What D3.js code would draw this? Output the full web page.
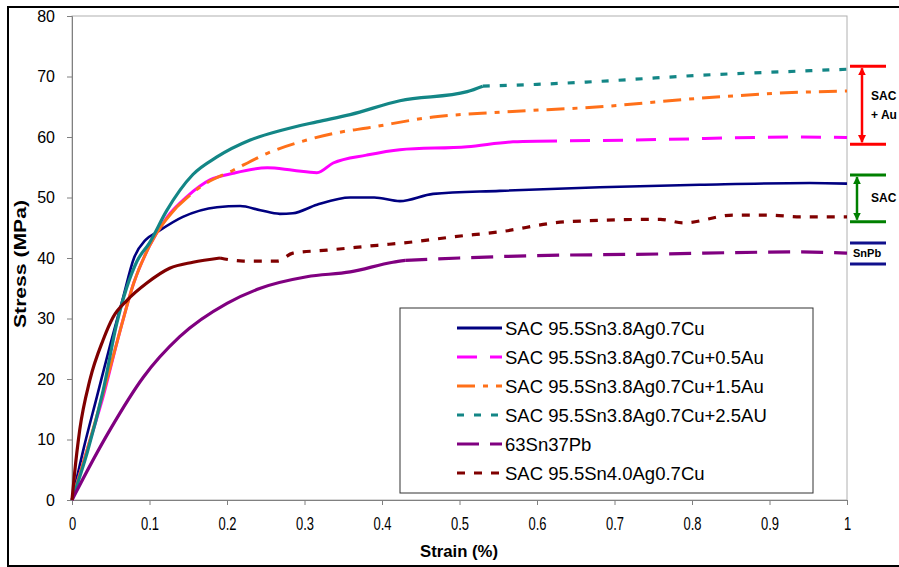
<!DOCTYPE html>
<html>
<head>
<meta charset="utf-8">
<script src="https://cdn.jsdelivr.net/npm/d3@7"></script>
<style>
  body { margin: 0; background: #fff; }
  text { font-family: "Liberation Sans", Arial, sans-serif; }
</style>
</head>
<body>
<div id="svg-container"></div>
<script>
// series names (legend order)
const seriesNames = [
  "SAC 95.5Sn3.8Ag0.7Cu",
  "SAC 95.5Sn3.8Ag0.7Cu+0.5Au",
  "SAC 95.5Sn3.8Ag0.7Cu+1.5Au",
  "SAC 95.5Sn3.8Ag0.7Cu+2.5AU",
  "63Sn37Pb",
  "SAC 95.5Sn4.0Ag0.7Cu"
]

// [strain %, stress MPa]
const sac = [[0,0],[0.015,8.5],[0.032,17],[0.05,26],[0.065,33],[0.08,40],[0.095,43],[0.11,44.3],[0.143,46.8],[0.187,48.4],[0.217,48.6],[0.243,47.9],[0.268,47.3],[0.285,47.4],[0.316,48.8],[0.359,50],[0.39,50],[0.423,49.4],[0.466,50.6],[0.552,51.1],[0.681,51.7],[0.81,52.1],[0.952,52.4],[1,52.3]]
const sacAu05 = [[0,0],[0.02,8.5],[0.04,17],[0.06,27],[0.08,36],[0.1,42],[0.123,46.8],[0.148,50.1],[0.178,52.9],[0.208,54],[0.252,54.9],[0.285,54.5],[0.316,54.1],[0.337,55.7],[0.38,57],[0.423,57.9],[0.51,58.4],[0.569,59.2],[0.6,59.3],[0.724,59.5],[0.94,60],[1,59.9]]
const sacAu15 = [[0,0],[0.02,8.5],[0.04,17.5],[0.06,27],[0.08,36],[0.1,42],[0.135,48.4],[0.165,51.7],[0.208,54.5],[0.252,57.3],[0.303,59.5],[0.346,60.8],[0.381,61.5],[0.466,63.3],[0.552,64.1],[0.681,65],[0.81,66.4],[0.94,67.4],[1,67.6]]
const sacAu25 = [[0,0],[0.02,8],[0.04,18],[0.058,29.3],[0.084,39.5],[0.1,42.5],[0.122,47.8],[0.156,53.8],[0.187,56.7],[0.23,59.5],[0.273,61.2],[0.316,62.5],[0.359,63.7],[0.423,66],[0.51,67.5],[0.53,68.4],[0.6,68.7],[0.681,69.2],[0.81,70.2],[0.94,70.9],[1,71.2]]
const snPb = [[0,0],[0.002,0.5],[0.049,11.6],[0.092,20.3],[0.139,27],[0.2,32.5],[0.243,35],[0.303,36.9],[0.359,37.7],[0.414,39.3],[0.43,39.6],[0.5,40],[0.6,40.4],[0.724,40.6],[0.94,41],[1,40.8]]
const sac40 = [[0,0],[0.003,4],[0.01,11.6],[0.023,19.8],[0.04,26.4],[0.053,30.2],[0.071,33],[0.097,35.9],[0.126,38.3],[0.156,39.3],[0.191,40],[0.221,39.5],[0.265,39.5],[0.285,40.8],[0.329,41.3],[0.394,42.1],[0.436,42.6],[0.492,43.5],[0.55,44.3],[0.639,46],[0.759,46.4],[0.789,45.8],[0.853,47.1],[0.897,47.1],[0.94,46.8],[1,46.8]]

const xTicks = [0, 0.1, 0.2, 0.3, 0.4, 0.5, 0.6, 0.7, 0.8, 0.9, 1]
const yTicks = [0, 10, 20, 30, 40, 50, 60, 70, 80]

// stress ranges marked on the right side
const bracketLabels = [["SAC", "+ Au"], ["SAC"], ["SnPb"]]
const bracketLow = [58.8, 46, 39]
const bracketHigh = [71.7, 53.7, 42.5]

const allSeries = [sac, sacAu05, sacAu15, sacAu25, snPb, sac40]

// styling per series
const styles = [
  { color: "#000080", dash: null, width: 2.6, solidTo: 1 },
  { color: "#ff00ff", dash: "20,13", width: 3, solidTo: 0.6 },
  { color: "#ff7019", dash: "18,8,5,8", width: 3, solidTo: 0.135 },
  { color: "#138686", dash: "7,10", width: 3.2, solidTo: 0.53 },
  { color: "#800080", dash: "22,11", width: 3.2, solidTo: 0.43 },
  { color: "#800000", dash: "8,9", width: 3.2, solidTo: 0.191 }
]
const bracketColors = ["#ff0000", "#008000", "#10108c"]

const svg = d3.select("#svg-container")
  .append("svg")
    .attr("width", 899)
    .attr("height", 567)

// outer frame
svg.append("rect")
  .attr("x", 8).attr("y", 7)
  .attr("width", 900).attr("height", 559)
  .attr("fill", "none")
  .attr("stroke", "black")
  .attr("stroke-width", 2)

const xScale = d3.scaleLinear().domain([0, 1]).range([72, 847])
const yScale = d3.scaleLinear().domain([0, 80]).range([500, 16])

// plot area border
svg.append("rect")
  .attr("x", xScale(0)).attr("y", yScale(80))
  .attr("width", xScale(1) - xScale(0))
  .attr("height", yScale(0) - yScale(80))
  .attr("fill", "none")
  .attr("stroke", "#b0b0b0")
  .attr("stroke-width", 1)

const yAxis = svg.append("g")
  .attr("transform", `translate(${xScale(0)},0)`)
  .call(d3.axisLeft(yScale).tickValues(yTicks).tickSize(5).tickPadding(12).tickFormat(d3.format("d")))
yAxis.select(".domain").attr("stroke", "#808080")
yAxis.selectAll(".tick line").attr("stroke", "#808080")
yAxis.selectAll("text")
  .style("font-size", "16px")
  .attr("fill", "#000")

const xAxis = svg.append("g")
  .attr("transform", `translate(0,${yScale(0)})`)
  .call(d3.axisBottom(xScale).tickValues(xTicks).tickSize(5).tickPadding(12).tickFormat(d => d3.format("")(d)))
xAxis.select(".domain").attr("stroke", "#808080")
xAxis.selectAll(".tick line").attr("stroke", "#808080")
xAxis.selectAll("text")
  .style("font-size", "18px")
  .attr("fill", "#000")
  .attr("transform", "scale(0.72,1)")

// axis titles
svg.append("text")
  .text("Stress (MPa)")
  .attr("transform", "translate(26,264) rotate(-90)")
  .attr("text-anchor", "middle")
  .attr("textLength", 128)
  .attr("lengthAdjust", "spacingAndGlyphs")
  .style("font-size", "16px")
  .style("font-weight", "bold")

svg.append("text")
  .text("Strain (%)")
  .attr("x", 459).attr("y", 557)
  .attr("text-anchor", "middle")
  .attr("textLength", 78)
  .attr("lengthAdjust", "spacingAndGlyphs")
  .style("font-size", "17px")
  .style("font-weight", "bold")

const line = d3.line()
  .curve(d3.curveMonotoneX)
  .x(d => xScale(d[0]))
  .y(d => yScale(d[1]))

allSeries.forEach((data, i) => {
  const st = styles[i]
  const solid = data.filter(d => d[0] <= st.solidTo)
  const dashed = data.filter(d => d[0] >= st.solidTo)
  svg.append("path")
    .attr("d", line(solid))
    .attr("fill", "none")
    .attr("stroke", st.color)
    .attr("stroke-width", st.width)
    .attr("stroke-linejoin", "round")
  if (dashed.length > 1) {
    svg.append("path")
      .attr("d", line(dashed))
      .attr("fill", "none")
      .attr("stroke", st.color)
      .attr("stroke-width", st.width)
      .attr("stroke-dasharray", st.dash)
  }
})

// legend
const legend = svg.append("g")
legend.append("rect")
  .attr("x", 400).attr("y", 308)
  .attr("width", 413).attr("height", 185)
  .attr("fill", "white")
  .attr("stroke", "#333")
  .attr("stroke-width", 1)

const item = legend.selectAll("g.item")
  .data(seriesNames)
  .join("g")
    .attr("class", "item")
    .attr("transform", (d, i) => `translate(0, ${328 + i * 29})`)

item.append("line")
  .attr("x1", 457).attr("x2", 502)
  .attr("y1", 0).attr("y2", 0)
  .attr("stroke", (d, i) => styles[i].color)
  .attr("stroke-width", 3)
  .attr("stroke-dasharray", (d, i) => styles[i].dash)

item.append("text")
  .text(d => d)
  .attr("x", 505)
  .attr("y", 7)
  .style("font-size", "18.5px")

// right-hand range brackets
const defs = svg.append("defs")
bracketColors.forEach((c, i) => {
  defs.append("marker")
    .attr("id", "arrow" + i)
    .attr("viewBox", "0 0 10 10")
    .attr("refX", 9).attr("refY", 5)
    .attr("markerWidth", 3.2).attr("markerHeight", 3.4)
    .attr("markerUnits", "strokeWidth")
    .attr("orient", "auto-start-reverse")
    .append("path")
      .attr("d", "M0,0 L10,5 L0,10 Z")
      .attr("fill", c)
})

const bx1 = 850, bx2 = 886
bracketLabels.forEach((lab, i) => {
  const g = svg.append("g")
  const yHi = yScale(bracketHigh[i])
  const yLo = yScale(bracketLow[i])
  ;[yHi, yLo].forEach(yy => {
    g.append("line")
      .attr("x1", bx1).attr("x2", bx2)
      .attr("y1", yy).attr("y2", yy)
      .attr("stroke", bracketColors[i])
      .attr("stroke-width", 3)
  })
  if (i < 2) {
    const ax = i === 0 ? 862 : 857
    g.append("line")
      .attr("x1", ax).attr("x2", ax)
      .attr("y1", yHi + 2).attr("y2", yLo - 2)
      .attr("stroke", bracketColors[i])
      .attr("stroke-width", 2.5)
      .attr("marker-start", `url(#arrow${i})`)
      .attr("marker-end", `url(#arrow${i})`)
    const mid = (yHi + yLo) / 2
    lab.forEach((t, k) => {
      g.append("text")
        .text(t)
        .attr("x", 871)
        .attr("y", mid + 4 + (k - (lab.length - 1) / 2) * 19)
        .style("font-size", "12px")
        .style("font-weight", "bold")
    })
  } else {
    g.append("text")
      .text(lab[0])
      .attr("x", 853)
      .attr("y", (yHi + yLo) / 2 + 4)
      .style("font-size", "11px")
      .style("font-weight", "bold")
  }
})
</script>
</body>
</html>
